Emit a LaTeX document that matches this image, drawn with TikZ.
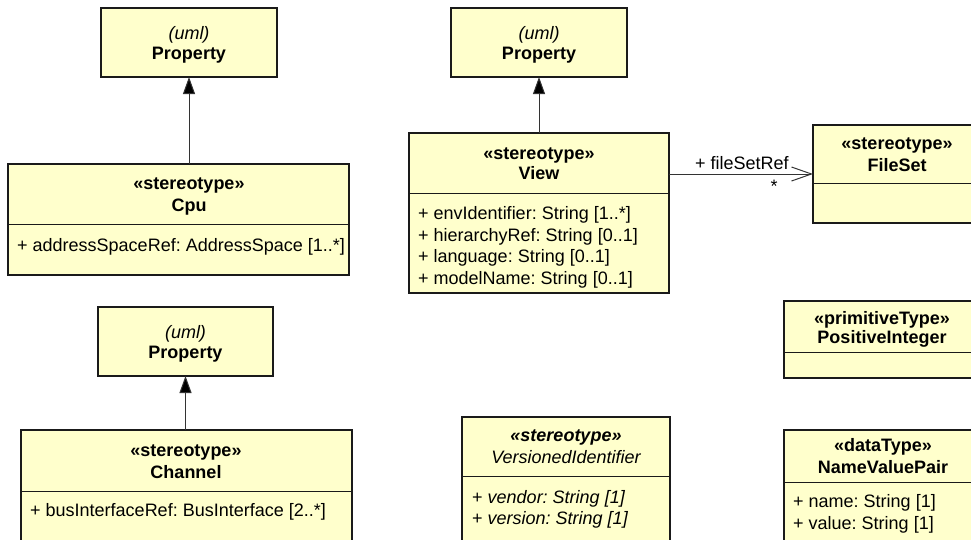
\documentclass[tikz,border=0pt]{standalone}
\usepackage{fontspec}
\setmainfont{Liberation Sans}
\usetikzlibrary{arrows.meta}
\definecolor{umlfill}{HTML}{FFFFCC}
\definecolor{umlline}{HTML}{1A1A1A}
\definecolor{connline}{HTML}{333333}
\frenchspacing
\begin{document}
\begin{tikzpicture}[x=1pt,y=-1pt,
  umlbox/.style={draw=umlline, fill=umlfill, line width=1.1pt, inner sep=0pt, outer sep=0pt},
  divl/.style={draw=umlline, line width=1pt},
  txt/.style={font=\fontsize{18}{21}\selectfont, inner sep=0pt, anchor=base},
  attr/.style={font=\fontsize{18}{21}\selectfont, inner sep=0pt, anchor=base west},
  gen/.style={draw=connline, line width=1pt, -{Triangle[length=17pt,width=12pt,fill=black]}},
  assoc/.style={draw=connline, line width=1pt, -{Straight Barb[length=20pt,width=14pt,line width=1pt]}}]
\useasboundingbox (0,0) rectangle (971,539);
\fill[white] (0,0) rectangle (971,539);
\clip (0,0) rectangle (971,539);

% boxes
\node[umlbox, minimum width=176pt, minimum height=69pt] (P1) at (189,42.5) {};
\node[umlbox, minimum width=176pt, minimum height=69pt] (P2) at (539,42.5) {};
\node[umlbox, minimum width=175pt, minimum height=69pt] (P3) at (185.5,341.5) {};
\node[umlbox, minimum width=341pt, minimum height=111pt] (Cpu) at (178.5,219.5) {};
\node[umlbox, minimum width=260pt, minimum height=160pt] (View) at (539,213) {};
\node[umlbox, minimum width=168pt, minimum height=98pt] (FileSet) at (897,174) {};
\node[umlbox, minimum width=331pt, minimum height=130pt] (Channel) at (186.5,495) {};
\node[umlbox, minimum width=208pt, minimum height=143pt] (VerId) at (566,488.5) {};
\node[umlbox, minimum width=196pt, minimum height=77pt] (PosInt) at (882,339.5) {};
\node[umlbox, minimum width=196pt, minimum height=130pt] (NVP) at (882,495) {};

% dividers
\draw[divl] (Cpu.west |- 0,224) -- (Cpu.east |- 0,224);
\draw[divl] (View.west |- 0,193) -- (View.east |- 0,193);
\draw[divl] (FileSet.west |- 0,183) -- (FileSet.east |- 0,183);
\draw[divl] (Channel.west |- 0,491) -- (Channel.east |- 0,491);
\draw[divl] (VerId.west |- 0,476) -- (VerId.east |- 0,476);
\draw[divl] (PosInt.west |- 0,352) -- (PosInt.east |- 0,352);
\draw[divl] (NVP.west |- 0,482) -- (NVP.east |- 0,482);

% texts
\node[txt] (p1a) at (189,39) {\itshape (uml)};
\node[txt] (p1b) at (189,59) {\bfseries Property};
\node[txt] (p2a) at (539,39) {\itshape (uml)};
\node[txt] (p2b) at (539,59) {\bfseries Property};
\node[txt] (p3a) at (185.5,338) {\itshape (uml)};
\node[txt] (p3b) at (185.5,358) {\bfseries Property};

\node[txt] (cpuS) at (189,189) {\bfseries «stereotype»};
\node[txt] (cpuN) at (189,211) {\bfseries Cpu};
\node[attr] (cpuA) at (17,251) {+ addressSpaceRef: AddressSpace [1..*]};

\node[txt] (viewS) at (539,159.5) {\bfseries «stereotype»};
\node[txt] (viewN) at (539,179.5) {\bfseries View};
\node[attr] (viewA1) at (418,219.5) {+ envIdentifier: String [1..*]};
\node[attr] (viewA2) at (418,241) {+ hierarchyRef: String [0..1]};
\node[attr] (viewA3) at (418,262.5) {+ language: String [0..1]};
\node[attr] (viewA4) at (418,284) {+ modelName: String [0..1]};

\node[txt] (fsS) at (897,149) {\bfseries «stereotype»};
\node[txt] (fsN) at (897,171) {\bfseries FileSet};

\node[txt] (chS) at (186,456) {\bfseries «stereotype»};
\node[txt] (chN) at (186,478) {\bfseries Channel};
\node[attr] (chA) at (30,516) {+ busInterfaceRef: BusInterface [2..*]};

\node[txt] (viS) at (566,441) {\bfseries\itshape «stereotype»};
\node[txt] (viN) at (566,463) {\itshape VersionedIdentifier};
\node[attr] (viA1) at (472,503) {+ \itshape vendor: String [1]};
\node[attr] (viA2) at (472,524) {+ \itshape version: String [1]};

\node[txt] (piS) at (882,324) {\bfseries «primitiveType»};
\node[txt] (piN) at (882,343) {\bfseries PositiveInteger};

\node[txt] (nvS) at (883,451) {\bfseries «dataType»};
\node[txt] (nvN) at (883,473) {\bfseries NameValuePair};
\node[attr] (nvA1) at (793,507.5) {+ name: String [1]};
\node[attr] (nvA2) at (793,529) {+ value: String [1]};

% connectors
\draw[gen] (P1.south |- Cpu.north) -- (P1.south);
\draw[gen] (View.north) -- (P2.south);
\draw[gen] (P3.south |- Channel.north) -- (P3.south);
\draw[assoc] (View.east |- FileSet.west) -- (FileSet.west);
\node[attr] (lblRef) at (695,169) {+ fileSetRef};
\node[txt] (lblMul) at (774,192) {*};
\end{tikzpicture}
\end{document}
